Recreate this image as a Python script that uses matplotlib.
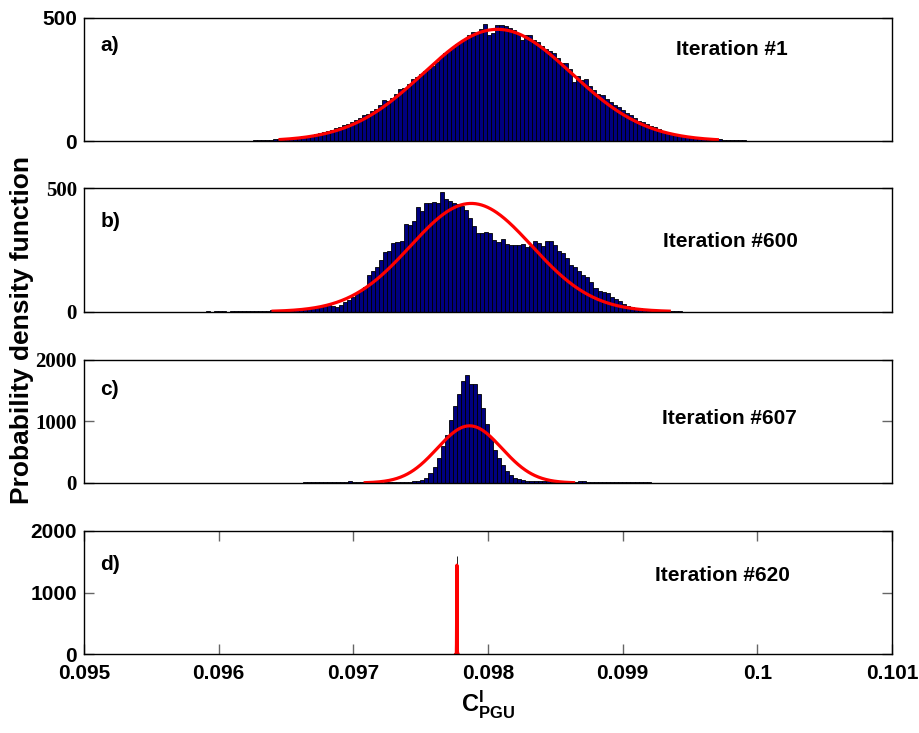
import numpy as np
import matplotlib.pyplot as plt

plt.rcParams['mathtext.fontset'] = 'custom'
plt.rcParams['mathtext.rm'] = 'Liberation Sans:bold'
plt.rcParams['mathtext.bf'] = 'Liberation Sans:bold'

# histogram bins (width)
bin_width = 0.00003

# a) iteration #1 : counts from bin n = -72 up, bins centred on a_center + n*bin_width
a_center = 0.09807
a_first = -72
a_counts = [0, 1, 0, 1, 1, 0, 1, 1, 2, 1, 2, 2,
            3, 3, 4, 5, 6,
            7, 8, 10, 11, 13, 15, 17, 19, 22, 25, 28, 32, 36, 40, 45,
            51, 56, 63, 70, 76, 84, 95, 104, 110, 120, 131,
            145, 166, 162, 175, 190, 212, 214, 230, 250,
            258, 272, 285, 291, 305, 322, 340, 356, 365, 378,
            392, 400, 412, 430, 443, 440, 455, 474, 430, 437,
            472, 470, 466, 460, 450, 440, 410, 432, 430, 410, 400,
            385, 372, 365, 356, 335, 318, 316, 292, 240, 262,
            248, 250, 225, 205, 192, 186, 170, 158, 148, 138,
            126, 115, 104, 95, 80, 76, 68, 62, 56, 50,
            42, 36, 32, 29, 26, 23, 20, 18, 16, 14,
            12, 10, 9, 8, 7, 6, 5, 5, 4, 3,
            3, 2, 2, 2, 1, 2, 1, 1, 1, 0, 1, 1, 0, 1, 1]

# b) iteration #600
b_center = 0.097868
b_first = -66
b_counts = [0, 1, 0, 1, 1, 1, 0, 1, 1, 1, 2, 1, 2, 2, 3, 3, 4,
            5, 6, 6, 7, 8, 8, 9, 10, 12, 11,
            14, 16, 18, 22, 27, 25, 20, 28, 40, 48,
            60, 75, 85, 102, 150, 165, 183, 210, 240, 245,
            278, 282, 286, 356, 350, 367, 424, 410, 442, 442,
            444, 442, 486, 455, 450, 440, 438, 430, 414, 380,
            346, 320, 320, 322, 318, 292, 282, 295, 275, 272,
            272, 270, 273, 262, 265, 285, 280, 268, 287, 287,
            270, 245, 238, 216, 190, 183, 165, 150, 142, 122,
            95, 82, 78, 75, 58, 52, 42, 30, 25, 20,
            16, 13, 10, 8, 6, 5, 4, 3, 2, 2, 1, 1]

# c) iteration #607
c_center = 0.097843
c_first = -60
c_counts = [2, 2, 3, 2, 3, 3, 4, 3, 4, 4, 5, 4, 5, 5, 6, 5, 6, 6, 7, 7,
            8, 8, 9, 10, 10, 12, 13, 14, 16,
            20, 22, 24, 22, 20, 18,
            10, 9, 8, 8, 7, 8, 9, 10, 12, 14, 16, 20, 25,
            30, 45, 76, 157, 266, 401, 607, 780, 1024, 1252, 1442, 1647,
            1745, 1605, 1605, 1442, 1214, 954, 727, 537, 401, 293, 195,
            130, 87, 65, 49, 40, 35, 30, 28, 25, 24, 22, 22, 20, 22, 20,
            18, 20, 25, 24, 22, 20,
            18, 17, 16, 15, 14, 13, 12, 11, 10, 10, 9, 9, 8, 8,
            7, 7, 6, 6, 6, 5, 5, 5, 4, 4, 4, 3, 3, 3, 3, 2, 2, 2, 2, 2,
            1, 1, 1, 1, 1]

# d) iteration #620 : everything in one very narrow bin
d_center = 0.097769
d_first = 0
d_counts = [1590]
d_width = 0.000006

# fitted normal curves (mean, std, peak, drawn range)
fit_mean = [0.09807, 0.097875, 0.097863, 0.097769]
fit_std = [0.00055, 0.000451, 0.00024, 0.0000015]
fit_peak = [453, 439, 927, 1445]
fit_lo = [0.096456, 0.096404, 0.097088, 0.097762]
fit_hi = [0.099703, 0.099346, 0.098635, 0.097776]

panel_labels = ['a)', 'b)', 'c)', 'd)']
iter_labels = ['Iteration #1', 'Iteration #600', 'Iteration #607', 'Iteration #620']
ymax = [500, 500, 2000, 2000]
yticks = [[0, 500], [0, 500], [0, 1000, 2000], [0, 1000, 2000]]
xtick_vals = [0.095, 0.096, 0.097, 0.098, 0.099, 0.100, 0.101]
xtick_labels = ['0.095', '0.096', '0.097', '0.098', '0.099', '0.1', '0.101']

centers = [a_center, b_center, c_center, d_center]
firsts = [a_first, b_first, c_first, d_first]
counts = [a_counts, b_counts, c_counts, d_counts]
widths = [bin_width, bin_width, bin_width, d_width]

fig = plt.figure(figsize=(9.2, 7.33), dpi=100)
bottoms = [0.8076, 0.5748, 0.3411, 0.1074]
iter_pos = [(0.733, 0.746), (0.717, 0.568), (0.715, 0.523), (0.707, 0.639)]
label_y = [0.773, 0.733, 0.756, 0.73]
tick_family = ['Liberation Sans', 'Liberation Serif', 'Liberation Serif', 'Liberation Sans']

axes = []
for i in range(4):
    ax = fig.add_axes([0.0913, bottoms[i], 0.8783, 0.1682])
    axes.append(ax)
    n = np.arange(len(counts[i])) + firsts[i]
    x = centers[i] + n * bin_width
    ax.bar(x, counts[i], width=widths[i], color='#000080',
           edgecolor='black', linewidth=0.6)

    xs = np.linspace(fit_lo[i], fit_hi[i], 400)
    ys = fit_peak[i] * np.exp(-0.5 * ((xs - fit_mean[i]) / fit_std[i]) ** 2)
    ax.plot(xs, ys, color='red', linewidth=2.3)

    ax.set_xlim(0.095, 0.101)
    ax.set_ylim(0, ymax[i])
    ax.set_yticks(yticks[i])
    ax.set_yticklabels([str(v) for v in yticks[i]],
                       fontfamily=tick_family[i], fontweight='bold', fontsize=15)
    if i < 3:
        ax.set_xticks([])
    else:
        ax.set_xticks(xtick_vals)
        ax.set_xticklabels(xtick_labels, fontfamily='Liberation Sans',
                           fontweight='bold', fontsize=15)
    ax.tick_params(direction='in', length=7, width=1, color='0.4',
                   top=True, right=True, pad=5)
    ax.tick_params(axis='x', pad=7)
    for s in ax.spines.values():
        s.set_linewidth(1.0)

    ax.text(0.02, label_y[i], panel_labels[i], transform=ax.transAxes,
            fontfamily='Liberation Sans', fontweight='bold', fontsize=15,
            va='center', ha='left')
    ax.text(iter_pos[i][0], iter_pos[i][1], iter_labels[i], transform=ax.transAxes,
            fontfamily='Liberation Sans', fontweight='bold', fontsize=15,
            va='center', ha='left')

fig.text(0.024, 0.55, 'Probability density function', rotation=90,
         fontfamily='Liberation Sans', fontweight='bold', fontsize=19,
         va='center', ha='center')
axes[3].set_xlabel(r'$\mathbf{C}^{\mathbf{I}}_{\mathbf{PGU}}$', fontsize=17, labelpad=4)

fig.savefig('out.png', dpi=100)
